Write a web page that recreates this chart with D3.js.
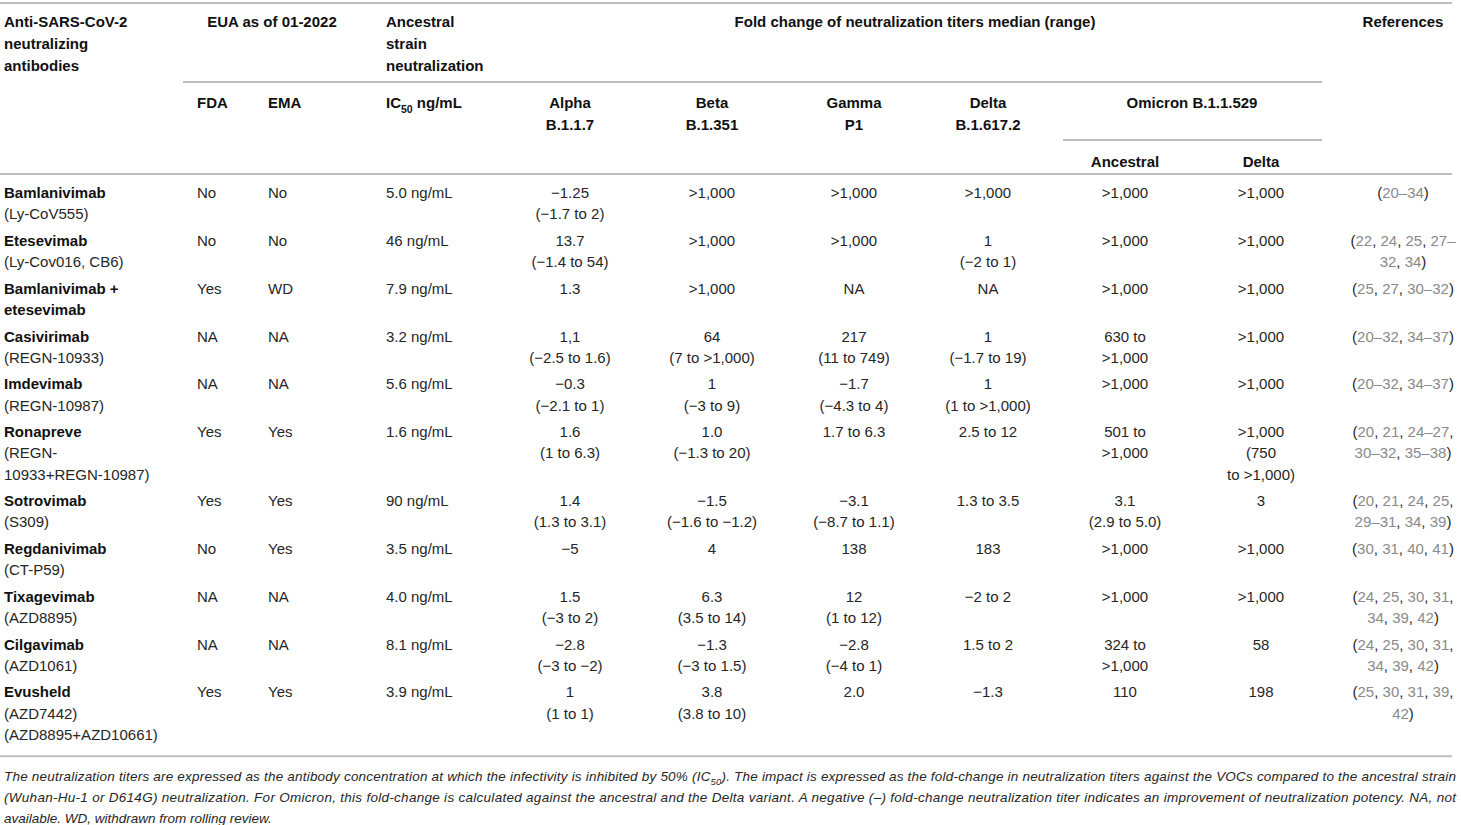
<!DOCTYPE html>
<html>
<head>
<meta charset="utf-8">
<script src="https://cdn.jsdelivr.net/npm/d3@7"></script>
<style>
  body { margin: 0; background: #fff; }
  svg { display: block; font-family: "Liberation Sans", Arial, sans-serif; }
</style>
</head>
<body>
<svg id="chart" width="1461" height="825"></svg>
<script>
// table content
const antibodyNames = [
  'Bamlanivimab', 'Etesevimab', 'Bamlanivimab +\netesevimab', 'Casivirimab', 'Imdevimab',
  'Ronapreve', 'Sotrovimab', 'Regdanivimab', 'Tixagevimab', 'Cilgavimab', 'Evusheld'
]
const antibodyCodes = [
  '(Ly-CoV555)', '(Ly-Cov016, CB6)', '', '(REGN-10933)', '(REGN-10987)',
  '(REGN-\n10933+REGN-10987)', '(S309)', '(CT-P59)', '(AZD8895)', '(AZD1061)',
  '(AZD7442)\n(AZD8895+AZD10661)'
]
const fdaStatus = ['No', 'No', 'Yes', 'NA', 'NA', 'Yes', 'Yes', 'No', 'NA', 'NA', 'Yes']
const emaStatus = ['No', 'No', 'WD', 'NA', 'NA', 'Yes', 'Yes', 'Yes', 'NA', 'NA', 'Yes']
const ic50Values = ['5.0 ng/mL', '46 ng/mL', '7.9 ng/mL', '3.2 ng/mL', '5.6 ng/mL', '1.6 ng/mL',
  '90 ng/mL', '3.5 ng/mL', '4.0 ng/mL', '8.1 ng/mL', '3.9 ng/mL']
const alphaFold = ['−1.25\n(−1.7 to 2)', '13.7\n(−1.4 to 54)', '1.3', '1,1\n(−2.5 to 1.6)',
  '−0.3\n(−2.1 to 1)', '1.6\n(1 to 6.3)', '1.4\n(1.3 to 3.1)', '−5', '1.5\n(−3 to 2)',
  '−2.8\n(−3 to −2)', '1\n(1 to 1)']
const betaFold = ['>1,000', '>1,000', '>1,000', '64\n(7 to >1,000)', '1\n(−3 to 9)',
  '1.0\n(−1.3 to 20)', '−1.5\n(−1.6 to −1.2)', '4', '6.3\n(3.5 to 14)', '−1.3\n(−3 to 1.5)',
  '3.8\n(3.8 to 10)']
const gammaFold = ['>1,000', '>1,000', 'NA', '217\n(11 to 749)', '−1.7\n(−4.3 to 4)', '1.7 to 6.3',
  '−3.1\n(−8.7 to 1.1)', '138', '12\n(1 to 12)', '−2.8\n(−4 to 1)', '2.0']
const deltaFold = ['>1,000', '1\n(−2 to 1)', 'NA', '1\n(−1.7 to 19)', '1\n(1 to >1,000)', '2.5 to 12',
  '1.3 to 3.5', '183', '−2 to 2', '1.5 to 2', '−1.3']
const omicronAncestralFold = ['>1,000', '>1,000', '>1,000', '630 to\n>1,000', '>1,000',
  '501 to\n>1,000', '3.1\n(2.9 to 5.0)', '>1,000', '>1,000', '324 to\n>1,000', '110']
const omicronDeltaFold = ['>1,000', '>1,000', '>1,000', '>1,000', '>1,000',
  '>1,000\n(750\nto >1,000)', '3', '>1,000', '>1,000', '58', '198']
const references = ['(20–34)', '(22, 24, 25, 27–\n32, 34)', '(25, 27, 30–32)', '(20–32, 34–37)',
  '(20–32, 34–37)', '(20, 21, 24–27,\n30–32, 35–38)', '(20, 21, 24, 25,\n29–31, 34, 39)',
  '(30, 31, 40, 41)', '(24, 25, 30, 31,\n34, 39, 42)', '(24, 25, 30, 31,\n34, 39, 42)',
  '(25, 30, 31, 39,\n42)']

// header labels
const nameHeader = ['Anti-SARS-CoV-2', 'neutralizing', 'antibodies']
const euaHeader = 'EUA as of 01-2022'
const agencyHeaders = ['FDA', 'EMA']
const ancestralHeader = ['Ancestral', 'strain', 'neutralization']
const ic50Header = 'IC50 ng/mL'
const foldHeader = 'Fold change of neutralization titers median (range)'
const variantHeaders = ['Alpha\nB.1.1.7', 'Beta\nB.1.351', 'Gamma\nP1', 'Delta\nB.1.617.2']
const omicronHeader = 'Omicron B.1.1.529'
const omicronSubHeaders = ['Ancestral', 'Delta']
const refHeader = 'References'

const footnote = [
  'The neutralization titers are expressed as the antibody concentration at which the infectivity is inhibited by 50% (IC50). The impact is expressed as the fold-change in neutralization titers against the VOCs compared to the ancestral strain',
  '(Wuhan-Hu-1 or D614G) neutralization. For Omicron, this fold-change is calculated against the ancestral and the Delta variant. A negative (–) fold-change neutralization titer indicates an improvement of neutralization potency. NA, not',
  'available. WD, withdrawn from rolling review.'
]

// layout
const colKeys = ['name', 'fda', 'ema', 'ic50', 'alpha', 'beta', 'gamma', 'delta', 'omiAnc', 'omiDelta', 'refs']
const colX = d3.scaleOrdinal()
  .domain(colKeys)
  .range([4, 197, 268, 386, 570, 712, 854, 988, 1125, 1261, 1403])
const leftCols = ['name', 'fda', 'ema', 'ic50']
const anchor = k => leftCols.includes(k) ? 'start' : 'middle'

const lineH = 21.2
const rowPad = 5.4
const bodyTop = 174
const firstLine = 19
const ruleColor = '#bdbdbd'
const textColor = '#262626'
const refColor = '#8a8a8a'

const svg = d3.select('#chart')

// writes text with "IC50" shown as subscript
const writeSub = (sel, str, size) => {
  let shift = 0
  str.split(/(IC50)/).forEach(part => {
    if (part === 'IC50') {
      sel.append('tspan').attr('dy', -shift || null).text('IC')
      sel.append('tspan').attr('dy', size * 0.3).attr('font-size', size * 0.7).text('50')
      shift = size * 0.3
    } else if (part) {
      sel.append('tspan').attr('dy', shift ? -shift : null).text(part)
      shift = 0
    }
  })
}

const headerText = (lines, key, y0, xOverride, anch) => {
  lines.forEach((ln, j) => {
    const t = svg.append('text')
      .attr('x', xOverride != null ? xOverride : colX(key))
      .attr('y', y0 + j * 22)
      .attr('dy', '0.35em')
      .attr('text-anchor', anch || anchor(key))
      .attr('font-size', 15)
      .attr('font-weight', 'bold')
      .attr('fill', '#111')
    writeSub(t, ln, 15)
  })
}

// rules
const rules = [
  [0, 1452, 3], [183, 1322, 82], [1063, 1322, 140], [0, 1452, bodyTop]
]
svg.selectAll('line.rule')
  .data(rules)
  .enter()
  .append('line')
  .attr('class', 'rule')
  .attr('x1', d => d[0])
  .attr('x2', d => d[1])
  .attr('y1', d => d[2])
  .attr('y2', d => d[2])
  .attr('stroke', ruleColor)
  .attr('stroke-width', 2)

// header
headerText(nameHeader, 'name', 22)
headerText([euaHeader], null, 22, 272, 'middle')
headerText(ancestralHeader, 'ic50', 22)
headerText([foldHeader], null, 22, 915, 'middle')
headerText([refHeader], 'refs', 22)
headerText([agencyHeaders[0]], 'fda', 103)
headerText([agencyHeaders[1]], 'ema', 103)
headerText([ic50Header], 'ic50', 103)
variantHeaders.forEach((v, i) => headerText(v.split('\n'), colKeys[4 + i], 103))
headerText([omicronHeader], null, 103, 1192, 'middle')
headerText([omicronSubHeaders[0]], 'omiAnc', 162)
headerText([omicronSubHeaders[1]], 'omiDelta', 162)

// body rows
const rows = antibodyNames.map((n, i) => {
  const name = n.split('\n')
  const code = antibodyCodes[i] ? antibodyCodes[i].split('\n') : []
  const cells = {
    fda: fdaStatus[i], ema: emaStatus[i], ic50: ic50Values[i],
    alpha: alphaFold[i], beta: betaFold[i], gamma: gammaFold[i], delta: deltaFold[i],
    omiAnc: omicronAncestralFold[i], omiDelta: omicronDeltaFold[i], refs: references[i]
  }
  const n0 = d3.max([name.length + code.length].concat(Object.values(cells).map(c => c.split('\n').length)))
  return { name, code, cells, n: n0 }
})
const heights = rows.map(r => r.n * lineH + rowPad)
const tops = [bodyTop].concat(Array.from(d3.cumsum(heights)).map(h => bodyTop + h))

const rowG = svg.selectAll('g.row')
  .data(rows)
  .enter()
  .append('g')
  .attr('class', 'row')
  .attr('transform', (d, i) => `translate(0,${tops[i]})`)

rowG.each(function (r) {
  const g = d3.select(this)
  const nameLines = r.name.map(s => ({ s, bold: true })).concat(r.code.map(s => ({ s, bold: false })))
  nameLines.forEach((ln, j) => {
    g.append('text')
      .attr('x', colX('name'))
      .attr('y', firstLine + j * lineH)
      .attr('dy', '0.35em')
      .attr('font-size', 15)
      .attr('font-weight', ln.bold ? 'bold' : 'normal')
      .attr('fill', ln.bold ? '#111' : textColor)
      .text(ln.s)
  })
  Object.entries(r.cells).forEach(([k, v]) => {
    v.split('\n').forEach((ln, j) => {
      const t = g.append('text')
        .attr('x', colX(k))
        .attr('y', firstLine + j * lineH)
        .attr('dy', '0.35em')
        .attr('text-anchor', anchor(k))
        .attr('font-size', 15)
        .attr('fill', textColor)
      if (k === 'refs') {
        ln.split(/([\d–]+)/).filter(p => p).forEach(p => {
          t.append('tspan')
            .attr('fill', /[\d]/.test(p) ? refColor : textColor)
            .text(p)
        })
      } else {
        t.text(ln)
      }
    })
  })
})

// bottom rule
const bottomY = tops[tops.length - 1] + 14
svg.append('line')
  .attr('x1', 0)
  .attr('x2', 1452)
  .attr('y1', bottomY)
  .attr('y2', bottomY)
  .attr('stroke', ruleColor)
  .attr('stroke-width', 2)

// footnote
footnote.forEach((ln, j) => {
  const t = svg.append('text')
    .attr('x', 4)
    .attr('y', bottomY + 20 + 21 * j)
    .attr('dy', '0.35em')
    .attr('font-size', 13.5)
    .attr('font-style', 'italic')
    .attr('fill', textColor)
  if (j < footnote.length - 1) {
    t.attr('textLength', 1452).attr('lengthAdjust', 'spacing')
  }
  writeSub(t, ln, 13.5)
})
</script>
</body>
</html>
